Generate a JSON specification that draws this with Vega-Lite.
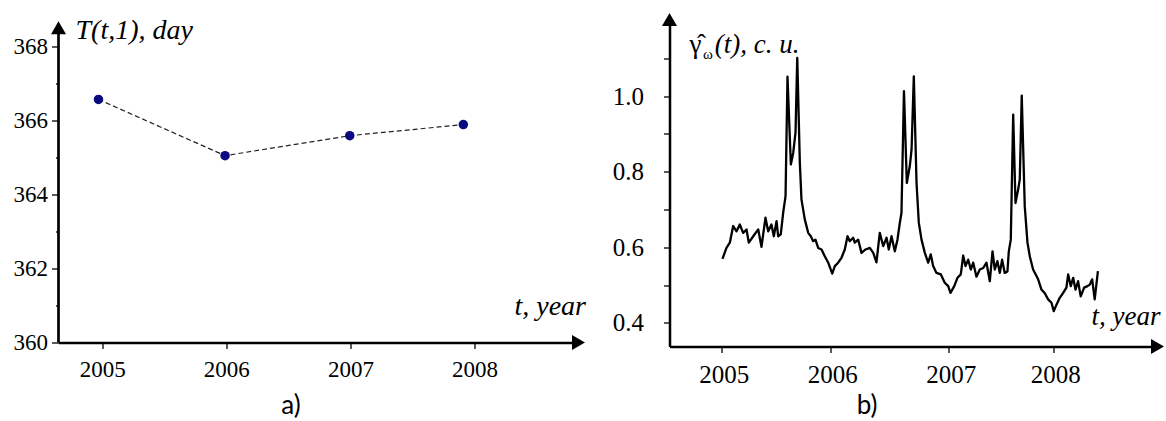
{
  "$schema": "https://vega.github.io/schema/vega-lite/v6.json",
  "background": "white",
  "padding": {"left": 12.5, "top": 12.5, "right": 0, "bottom": 0},
  "bounds": "flush",
  "spacing": 91,
  "config": {
    "view": {"stroke": null},
    "font": "Times New Roman",
    "axis": {"grid": false, "labelFont": "Times New Roman", "labelColor": "black", "tickColor": "black", "domainColor": "black", "tickWidth": 1.3, "domainCap": "butt"},
    "text": {"font": "Times New Roman"}
  },
  "hconcat": [
    {
      "width": 520,
      "height": 323,
      "data": {"values": [
        {"year": 2004.97, "T": 366.57},
        {"year": 2005.99, "T": 365.05},
        {"year": 2006.995, "T": 365.59},
        {"year": 2007.91, "T": 365.89}
      ]},
      "layer": [
        {
          "mark": {"type": "line", "strokeDash": [5, 3], "strokeWidth": 1.2, "color": "#222222"},
          "encoding": {
            "x": {"field": "year", "type": "quantitative",
              "scale": {"domain": [2004.648, 2008.838], "nice": false, "zero": false},
              "axis": {"values": [2005, 2005.5, 2006, 2006.5, 2007, 2007.5, 2008, 2008.5], "format": "d",
                "labelExpr": "datum.value % 1 == 0 ? datum.label : ''",
                "tickSize": 6, "labelPadding": 10, "labelFontSize": 23, "labelFont": "Times New Roman", "domainWidth": 2.7,
                "title": "a)", "titleFont": "Lato", "titleFontSize": 26, "titleFontWeight": "normal", "titleColor": "black",
                "titleX": 232, "titleY": 71, "titleAlign": "center", "titleBaseline": "alphabetic"}},
            "y": {"field": "T", "type": "quantitative",
              "scale": {"domain": [360, 368.73], "nice": false, "zero": false},
              "axis": {"values": [360, 361, 362, 363, 364, 365, 366, 367, 368], "format": "d",
                "labelExpr": "datum.value % 2 == 0 ? datum.label : ''",
                "tickSize": {"condition": {"test": "datum.value % 2 == 0", "value": 7}, "value": 3},
                "labelPadding": 4, "labelFontSize": 23, "labelFont": "Times New Roman", "domain": false, "title": null}}
          }
        },
        {
          "mark": {"type": "point", "filled": true, "shape": "circle", "size": 90, "color": "#0a0a80", "opacity": 1},
          "encoding": {
            "x": {"field": "year", "type": "quantitative"},
            "y": {"field": "T", "type": "quantitative"}
          }
        },
        {
          "data": {"values": [{}]},
          "mark": {"type": "rule", "strokeWidth": 2.7, "color": "black"},
          "encoding": {
            "x": {"datum": 2004.648, "type": "quantitative"},
            "y": {"datum": 360, "type": "quantitative"},
            "y2": {"datum": 368.51}
          }
        },
        {
          "data": {"values": [{}]},
          "mark": {"type": "point", "shape": "triangle-up", "filled": true, "size": 225, "color": "black", "opacity": 1},
          "encoding": {
            "x": {"datum": 2004.648, "type": "quantitative"},
            "y": {"datum": 368.51, "type": "quantitative"}
          }
        },
        {
          "data": {"values": [{}]},
          "mark": {"type": "point", "shape": "triangle-right", "filled": true, "size": 225, "color": "black", "opacity": 1},
          "encoding": {
            "x": {"datum": 2008.838, "type": "quantitative"},
            "y": {"datum": 360, "type": "quantitative"}
          }
        },
        {
          "data": {"values": [{"label": "T(t,1), day"}]},
          "mark": {"type": "text", "font": "Times New Roman", "fontStyle": "italic", "fontSize": 28, "align": "left", "baseline": "alphabetic", "color": "black"},
          "encoding": {
            "x": {"datum": 2004.785, "type": "quantitative"},
            "y": {"datum": 368.216, "type": "quantitative"},
            "text": {"field": "label"}
          }
        },
        {
          "data": {"values": [{"label": "t, year"}]},
          "mark": {"type": "text", "font": "Times New Roman", "fontStyle": "italic", "fontSize": 28, "align": "left", "baseline": "alphabetic", "color": "black"},
          "encoding": {
            "x": {"datum": 2008.322, "type": "quantitative"},
            "y": {"datum": 360.73, "type": "quantitative"},
            "text": {"field": "label"}
          }
        }
      ]
    },
    {
      "width": 488,
      "height": 327,
      "data": {"values": [
        {"year": 2005.006, "gamma": 0.569}, {"year": 2005.043, "gamma": 0.598}, {"year": 2005.074, "gamma": 0.612},
        {"year": 2005.105, "gamma": 0.656}, {"year": 2005.136, "gamma": 0.642}, {"year": 2005.166, "gamma": 0.660},
        {"year": 2005.197, "gamma": 0.638}, {"year": 2005.228, "gamma": 0.647}, {"year": 2005.249, "gamma": 0.612},
        {"year": 2005.290, "gamma": 0.629}, {"year": 2005.336, "gamma": 0.647}, {"year": 2005.366, "gamma": 0.601},
        {"year": 2005.403, "gamma": 0.678}, {"year": 2005.428, "gamma": 0.642}, {"year": 2005.458, "gamma": 0.660},
        {"year": 2005.480, "gamma": 0.629}, {"year": 2005.505, "gamma": 0.669}, {"year": 2005.520, "gamma": 0.629},
        {"year": 2005.544, "gamma": 0.634}, {"year": 2005.566, "gamma": 0.691}, {"year": 2005.588, "gamma": 0.735},
        {"year": 2005.606, "gamma": 1.051}, {"year": 2005.637, "gamma": 0.819}, {"year": 2005.659, "gamma": 0.850},
        {"year": 2005.680, "gamma": 0.903}, {"year": 2005.696, "gamma": 1.101}, {"year": 2005.720, "gamma": 0.823},
        {"year": 2005.735, "gamma": 0.726}, {"year": 2005.766, "gamma": 0.673}, {"year": 2005.797, "gamma": 0.638},
        {"year": 2005.821, "gamma": 0.629}, {"year": 2005.843, "gamma": 0.616}, {"year": 2005.864, "gamma": 0.620},
        {"year": 2005.889, "gamma": 0.598}, {"year": 2005.920, "gamma": 0.594}, {"year": 2005.950, "gamma": 0.576},
        {"year": 2005.982, "gamma": 0.559}, {"year": 2006.017, "gamma": 0.530}, {"year": 2006.039, "gamma": 0.550},
        {"year": 2006.067, "gamma": 0.559}, {"year": 2006.095, "gamma": 0.572}, {"year": 2006.123, "gamma": 0.594},
        {"year": 2006.146, "gamma": 0.629}, {"year": 2006.165, "gamma": 0.616}, {"year": 2006.194, "gamma": 0.625},
        {"year": 2006.207, "gamma": 0.612}, {"year": 2006.236, "gamma": 0.620}, {"year": 2006.264, "gamma": 0.585},
        {"year": 2006.298, "gamma": 0.594}, {"year": 2006.334, "gamma": 0.598}, {"year": 2006.363, "gamma": 0.585},
        {"year": 2006.390, "gamma": 0.560}, {"year": 2006.418, "gamma": 0.638}, {"year": 2006.447, "gamma": 0.603},
        {"year": 2006.475, "gamma": 0.625}, {"year": 2006.494, "gamma": 0.594}, {"year": 2006.517, "gamma": 0.629},
        {"year": 2006.545, "gamma": 0.589}, {"year": 2006.567, "gamma": 0.620}, {"year": 2006.587, "gamma": 0.664},
        {"year": 2006.601, "gamma": 0.691}, {"year": 2006.622, "gamma": 1.013}, {"year": 2006.646, "gamma": 0.770},
        {"year": 2006.671, "gamma": 0.814}, {"year": 2006.686, "gamma": 0.858}, {"year": 2006.705, "gamma": 1.052},
        {"year": 2006.728, "gamma": 0.770}, {"year": 2006.747, "gamma": 0.665}, {"year": 2006.770, "gamma": 0.620},
        {"year": 2006.798, "gamma": 0.585}, {"year": 2006.826, "gamma": 0.559}, {"year": 2006.848, "gamma": 0.581},
        {"year": 2006.868, "gamma": 0.550}, {"year": 2006.896, "gamma": 0.532}, {"year": 2006.933, "gamma": 0.528},
        {"year": 2006.966, "gamma": 0.506}, {"year": 2006.995, "gamma": 0.497}, {"year": 2007.016, "gamma": 0.479},
        {"year": 2007.052, "gamma": 0.497}, {"year": 2007.083, "gamma": 0.519}, {"year": 2007.115, "gamma": 0.528},
        {"year": 2007.138, "gamma": 0.578}, {"year": 2007.160, "gamma": 0.550}, {"year": 2007.186, "gamma": 0.567},
        {"year": 2007.211, "gamma": 0.541}, {"year": 2007.234, "gamma": 0.559}, {"year": 2007.265, "gamma": 0.522},
        {"year": 2007.297, "gamma": 0.541}, {"year": 2007.330, "gamma": 0.545}, {"year": 2007.361, "gamma": 0.559},
        {"year": 2007.393, "gamma": 0.510}, {"year": 2007.419, "gamma": 0.589}, {"year": 2007.441, "gamma": 0.541},
        {"year": 2007.466, "gamma": 0.563}, {"year": 2007.489, "gamma": 0.532}, {"year": 2007.511, "gamma": 0.567},
        {"year": 2007.536, "gamma": 0.532}, {"year": 2007.562, "gamma": 0.536}, {"year": 2007.575, "gamma": 0.589},
        {"year": 2007.594, "gamma": 0.620}, {"year": 2007.617, "gamma": 0.951}, {"year": 2007.639, "gamma": 0.717},
        {"year": 2007.665, "gamma": 0.753}, {"year": 2007.680, "gamma": 0.779}, {"year": 2007.699, "gamma": 1.001},
        {"year": 2007.728, "gamma": 0.708}, {"year": 2007.754, "gamma": 0.612}, {"year": 2007.776, "gamma": 0.576},
        {"year": 2007.808, "gamma": 0.541}, {"year": 2007.833, "gamma": 0.528}, {"year": 2007.856, "gamma": 0.515},
        {"year": 2007.888, "gamma": 0.488}, {"year": 2007.920, "gamma": 0.478}, {"year": 2007.952, "gamma": 0.462},
        {"year": 2007.984, "gamma": 0.453}, {"year": 2008.006, "gamma": 0.431}, {"year": 2008.032, "gamma": 0.448},
        {"year": 2008.063, "gamma": 0.466}, {"year": 2008.096, "gamma": 0.479}, {"year": 2008.127, "gamma": 0.493},
        {"year": 2008.144, "gamma": 0.528}, {"year": 2008.169, "gamma": 0.497}, {"year": 2008.192, "gamma": 0.519},
        {"year": 2008.214, "gamma": 0.488}, {"year": 2008.239, "gamma": 0.510}, {"year": 2008.264, "gamma": 0.470},
        {"year": 2008.297, "gamma": 0.493}, {"year": 2008.329, "gamma": 0.497}, {"year": 2008.351, "gamma": 0.501},
        {"year": 2008.374, "gamma": 0.515}, {"year": 2008.398, "gamma": 0.462}, {"year": 2008.429, "gamma": 0.537}
      ]},
      "layer": [
        {
          "mark": {"type": "line", "color": "black", "strokeWidth": 2.3, "strokeJoin": "round"},
          "encoding": {
            "x": {"field": "year", "type": "quantitative",
              "scale": {"domain": [2004.518, 2005, 2006, 2007, 2009], "range": [0, 52.3, 160.7, 279.3, 488], "nice": false, "zero": false},
              "axis": {"values": [2005, 2006, 2007, 2008], "format": "d", "tickSize": 6, "labelPadding": 10, "labelFontSize": 25,
                "labelFont": "Times New Roman", "labelOffset": 2, "domainWidth": 2.5,
                "title": "b)", "titleFont": "Lato", "titleFontSize": 26, "titleFontWeight": "normal", "titleColor": "black",
                "titleX": 197, "titleY": 67, "titleAlign": "center", "titleBaseline": "alphabetic"}},
            "y": {"field": "gamma", "type": "quantitative",
              "scale": {"domain": [0.3373, 1.2024], "nice": false, "zero": false},
              "axis": {"values": [0.4, 0.5, 0.6, 0.7, 0.8, 0.9, 1.0, 1.1], "format": ".1f",
                "labelExpr": "indexof(['0.4','0.6','0.8','1.0'], datum.label) >= 0 ? datum.label : ''",
                "tickSize": 6, "labelPadding": 20, "labelFontSize": 25, "labelFont": "Times New Roman", "domainWidth": 2.5, "title": null}}
          }
        },
        {
          "data": {"values": [{}]},
          "mark": {"type": "point", "shape": "triangle-up", "filled": true, "size": 225, "color": "black", "opacity": 1},
          "encoding": {
            "x": {"datum": 2004.518, "type": "quantitative"},
            "y": {"datum": 1.2024, "type": "quantitative"}
          }
        },
        {
          "data": {"values": [{}]},
          "mark": {"type": "point", "shape": "triangle-right", "filled": true, "size": 225, "color": "black", "opacity": 1},
          "encoding": {
            "x": {"datum": 2009.0, "type": "quantitative"},
            "y": {"datum": 0.3373, "type": "quantitative"}
          }
        },
        {
          "data": {"values": [{"label": "γ̂"}]},
          "mark": {"type": "text", "font": "Times New Roman", "fontSize": 27, "align": "left", "baseline": "alphabetic", "color": "black"},
          "encoding": {
            "x": {"datum": 2004.702, "type": "quantitative"},
            "y": {"datum": 1.115, "type": "quantitative"},
            "text": {"field": "label"}
          }
        },
        {
          "data": {"values": [{"label": "ω"}]},
          "mark": {"type": "text", "font": "Times New Roman", "fontSize": 15, "align": "left", "baseline": "alphabetic", "color": "black"},
          "encoding": {
            "x": {"datum": 2004.826, "type": "quantitative"},
            "y": {"datum": 1.099, "type": "quantitative"},
            "text": {"field": "label"}
          }
        },
        {
          "data": {"values": [{"label": "(t), c. u."}]},
          "mark": {"type": "text", "font": "Times New Roman", "fontStyle": "italic", "fontSize": 27, "align": "left", "baseline": "alphabetic", "color": "black"},
          "encoding": {
            "x": {"datum": 2004.935, "type": "quantitative"},
            "y": {"datum": 1.115, "type": "quantitative"},
            "text": {"field": "label"}
          }
        },
        {
          "data": {"values": [{"label": "t, year"}]},
          "mark": {"type": "text", "font": "Times New Roman", "fontStyle": "italic", "fontSize": 27, "align": "left", "baseline": "alphabetic", "color": "black"},
          "encoding": {
            "x": {"datum": 2008.367, "type": "quantitative"},
            "y": {"datum": 0.3929, "type": "quantitative"},
            "text": {"field": "label"}
          }
        }
      ]
    }
  ]
}
